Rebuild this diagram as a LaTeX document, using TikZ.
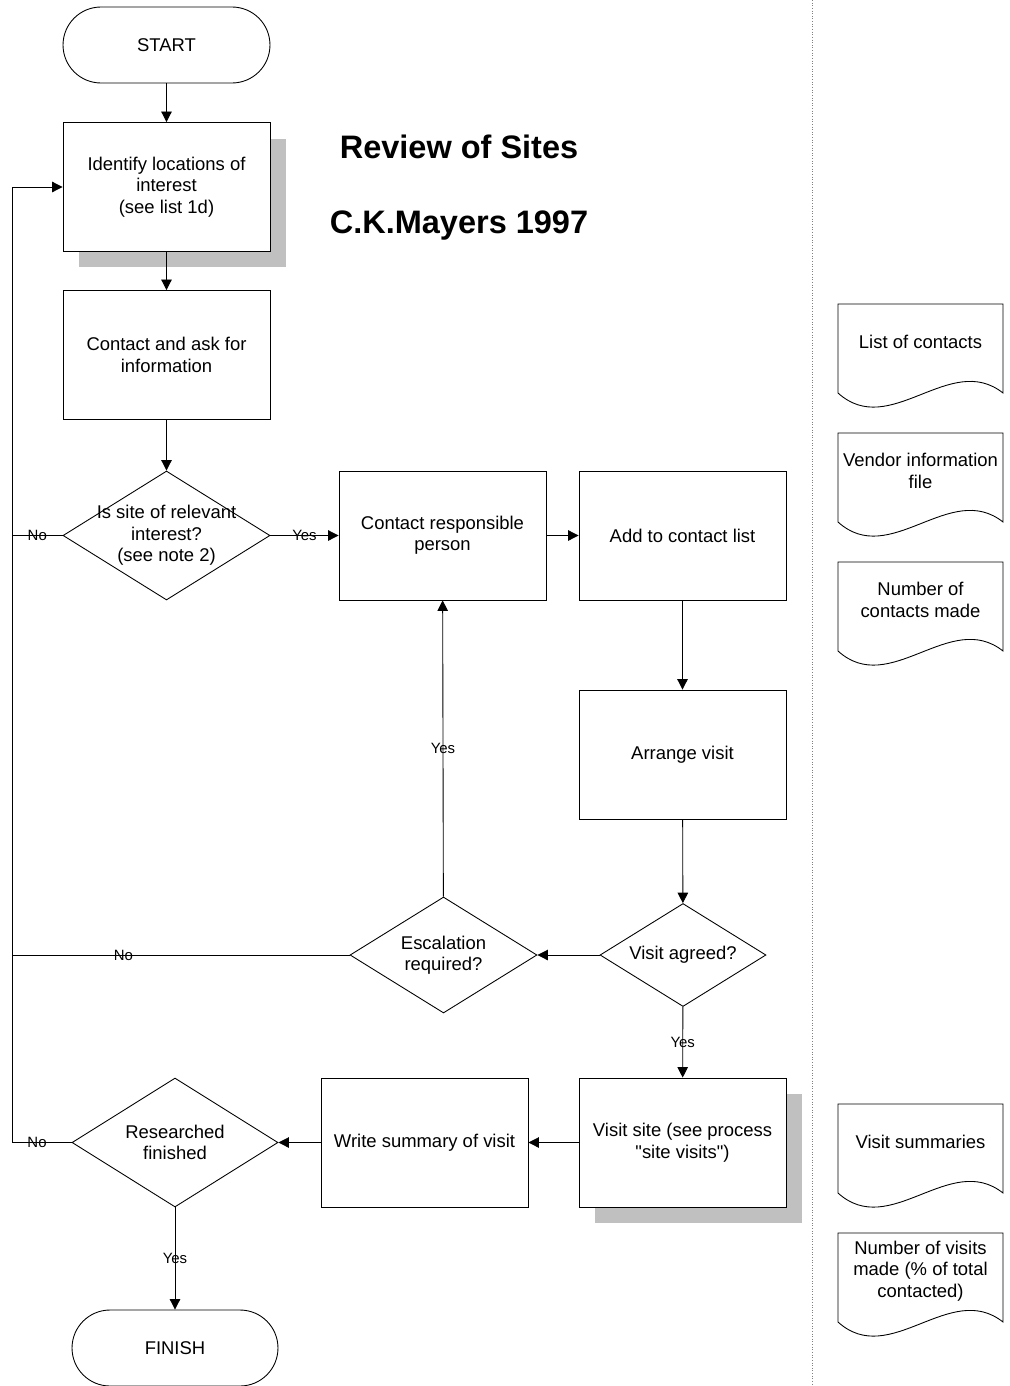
\documentclass[tikz,border=0pt]{standalone}
\usepackage{fontspec}
\setmainfont{Liberation Sans}
\usepackage{tikz}
\usetikzlibrary{arrows.meta, shapes.geometric, shadows, calc, positioning}
\definecolor{shadowgray}{RGB}{192,192,192}

\begin{document}
\begin{tikzpicture}[x=0.02cm, y=-0.02cm, line width=0.5pt,
        >={Triangle[length=6pt,width=6pt]},
        every node/.style={font=\fontsize{10.5}{12.2}\selectfont, align=center},
        terminal/.style={draw, rectangle, rounded corners=0.76cm, minimum width=4.14cm, minimum height=1.52cm, inner sep=0pt},
        process/.style={draw, rectangle, fill=white, minimum width=4.14cm, minimum height=2.58cm, inner sep=2pt},
        shadowed/.style={drop shadow={shadow xshift=0.32cm, shadow yshift=-0.32cm, fill=shadowgray, opacity=1}},
        decision/.style={draw, diamond, inner sep=0pt},
        lbl/.style={font=\fontsize{8.5}{10}\selectfont, inner sep=0pt},
        docbox/.style={inner sep=0pt},
        titletext/.style={font=\fontsize{18.5}{22}\selectfont\bfseries}]

        \useasboundingbox (0,0) rectangle (1009,1386);

        % Trennlinie rechts
        \draw[densely dotted, gray, line width=0.5pt] (812,0) -- (812,1386);

        % Titel
        \node[titletext] (title) at (459,147) {Review of Sites};
        \node[titletext] (author) at (459,226) {C.K.Mayers 1997};

        % Hauptablauf
        \node[terminal] (start) at (166.5,45) {START};
        \node[process, shadowed] (ident) at (166.5,187) {Identify locations of\\interest\\(see list 1d)};
        \node[process] (ask) at (166.5,355) {Contact and ask for\\information};
        \node[decision, minimum width=4.14cm, minimum height=2.58cm,
              label={center:Is site of relevant\\interest?\\(see note 2)}] (relevant) at (166.5,535.5) {};
        \node[process] (resp) at (442.5,535.5) {Contact responsible\\person};
        \node[process] (addlist) at (682.5,535.5) {Add to contact list};
        \node[process] (arrange) at (682.5,754.5) {Arrange visit};
        \node[decision, minimum width=3.32cm, minimum height=2.06cm,
              label={center:Visit agreed?}] (agreed) at (683,955) {};
        \node[decision, minimum width=3.74cm, minimum height=2.32cm,
              label={center:Escalation\\required?}] (escal) at (443.5,955) {};
        \node[process, shadowed] (visit) at (682.5,1142.5) {Visit site (see process\\\textquotedbl site visits\textquotedbl)};
        \node[process] (summary) at (424.5,1142.5) {Write summary of visit};
        \node[decision, minimum width=4.12cm, minimum height=2.58cm,
              label={center:Researched\\finished}] (done) at (175,1142.5) {};
        \node[terminal, minimum width=4.12cm] (finish) at (175,1348) {FINISH};

        % Rücklauf links
        \coordinate (rail) at (12,1142.5);

        % Dokumente
        \node[docbox] (docA) at (920.5,342) {List of contacts};
        \node[docbox] (docB) at (920.5,471) {Vendor information\\file};
        \node[docbox] (docC) at (920.5,600) {Number of\\contacts made};
        \node[docbox] (docD) at (920.5,1142) {Visit summaries};
        \node[docbox] (docE) at (920.5,1271) {Number of visits\\made (\% of total\\contacted)};
        \foreach \d in {docA,docB,docC,docD,docE}
          \draw ($(\d)+(-82.5,51)$) -- ($(\d)+(-82.5,-38)$) -- ($(\d)+(82.5,-38)$) -- ($(\d)+(82.5,51)$)
                .. controls +(-53,-42) and +(52,47) .. ($(\d)+(-82.5,51)$);

        % Verbindungen
        \draw[->] (start) -- (ident);
        \draw[->] (ident) -- (ask);
        \draw[->] (ask) -- (relevant);
        \draw[->] (relevant) -- node[lbl] {Yes} (resp);
        \draw[->] (resp) -- (addlist);
        \draw[->] (addlist) -- (arrange);
        \draw[->] (arrange) -- (agreed);
        \draw[->] (agreed) -- (escal);
        \draw[->] (escal) -- node[lbl] {Yes} (resp);
        \draw[->] (agreed) -- node[lbl] {Yes} (visit);
        \draw[->] (visit) -- (summary);
        \draw[->] (summary) -- (done);
        \draw[->] (done) -- node[lbl] {Yes} (finish);

        % Nein-Zweige
        \draw[->] (done.west) -- node[lbl, pos=0.58] {No} (rail) |- (ident.west);
        \draw (relevant.west) -- node[lbl] {No} (relevant.west -| rail);
        \draw (escal.west) -- node[lbl, pos=0.67] {No} (escal.west -| rail);

\end{tikzpicture}
\end{document}
